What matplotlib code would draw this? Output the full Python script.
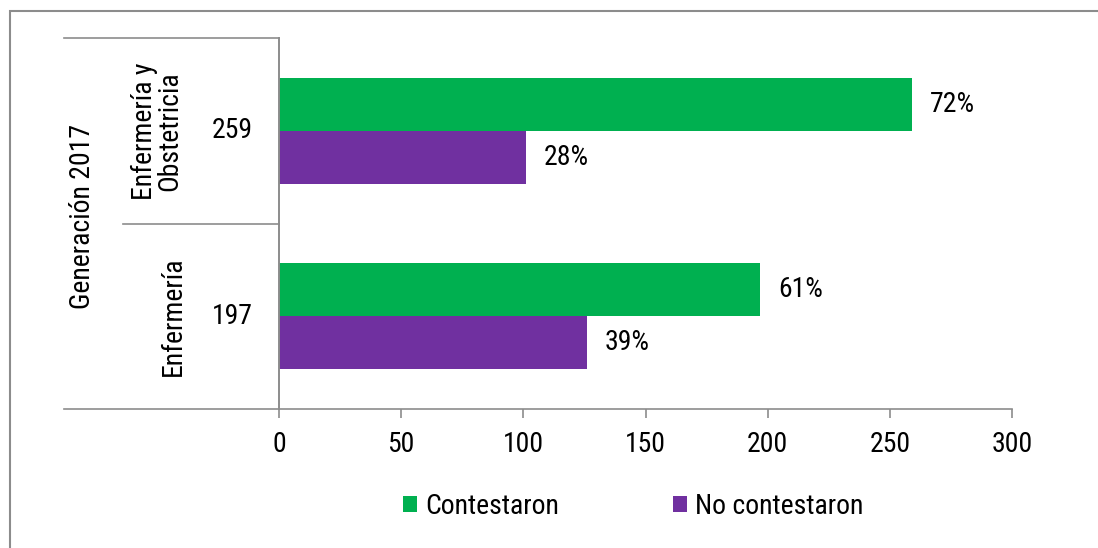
import matplotlib
matplotlib.use("Agg")
import matplotlib.pyplot as plt
from matplotlib.patches import Rectangle
from matplotlib.lines import Line2D

plt.rcParams['font.family'] = ['Roboto Condensed', 'DejaVu Sans']

categories = ["Enfermería", "Enfermería y\nObstetricia"]
totals = ["197", "259"]
group_label = "Generación 2017"
contestaron = [197, 259]
no_contestaron = [126, 101]
pct_contestaron = ["61%", "72%"]
pct_no = ["39%", "28%"]
series_names = ["Contestaron", "No contestaron"]
green = "#00B050"
purple = "#7030A0"
gray = "#8c8c8c"
fs = 20

W, H = 1098, 548
fig = plt.figure(figsize=(W / 100, H / 100), dpi=100)
ax = fig.add_axes([279 / W, 1 - 409 / H, 733 / W, 371 / H])

h = 0.286
y = [0, 1]
b1 = ax.barh([v + h / 2 for v in y], contestaron, height=h, color=green, label=series_names[0])
b2 = ax.barh([v - h / 2 for v in y], no_contestaron, height=h, color=purple, label=series_names[1])
for i in range(2):
    ax.text(contestaron[i] + 7.4, y[i] + h / 2, pct_contestaron[i], va="center", ha="left", fontsize=fs)
    ax.text(no_contestaron[i] + 7.4, y[i] - h / 2, pct_no[i], va="center", ha="left", fontsize=fs)

ax.set_xlim(0, 300)
ax.set_ylim(-0.5, 1.5)
ax.set_xticks(range(0, 301, 50))
ax.set_yticks([])
for s in ["top", "right"]:
    ax.spines[s].set_visible(False)
for s in ["left", "bottom"]:
    ax.spines[s].set_color(gray)
    ax.spines[s].set_linewidth(1.2)
ax.tick_params(axis="x", colors=gray, length=6.5, width=1.2, labelsize=fs, labelcolor="black", pad=9)

# multi-level category labels
for i in range(2):
    ax.text(-10.6, y[i], totals[i], ha="right", va="center", fontsize=fs, clip_on=False)
fig.text(157 / W, 1 - 131 / H, categories[1], rotation=90, ha="center", va="center", fontsize=fs, linespacing=0.95)
fig.text(173 / W, 1 - 316 / H, categories[0], rotation=90, ha="center", va="center", fontsize=fs)
fig.text(83 / W, 1 - 216 / H, group_label, rotation=90, ha="center", va="center", fontsize=fs)

# divider lines
for x0, x1, yy in [(64, 279, 38), (123, 279, 224), (64, 279, 409)]:
    fig.add_artist(Line2D([x0 / W, x1 / W], [1 - yy / H, 1 - yy / H], color=gray, lw=1.2))
fig.add_artist(Line2D([279 / W, 279 / W], [1 - 38 / H, 1 - 409 / H], color=gray, lw=1.2))

# outer border
fig.add_artist(Rectangle((10 / W, -0.05), 1.1, 1 - 11 / H + 0.05, transform=fig.transFigure,
                         fill=False, edgecolor=gray, lw=1.5))

em = fs * 100 / 72
fig.legend(handles=[b1, b2], loc="center left", bbox_to_anchor=(403 / W, 1 - 506 / H), ncol=2,
           frameon=False, fontsize=fs, handlelength=14 / em, handleheight=14 / em,
           handletextpad=8 / em, columnspacing=114 / em, borderpad=0, borderaxespad=0)

fig.savefig("out.png", dpi=100)
